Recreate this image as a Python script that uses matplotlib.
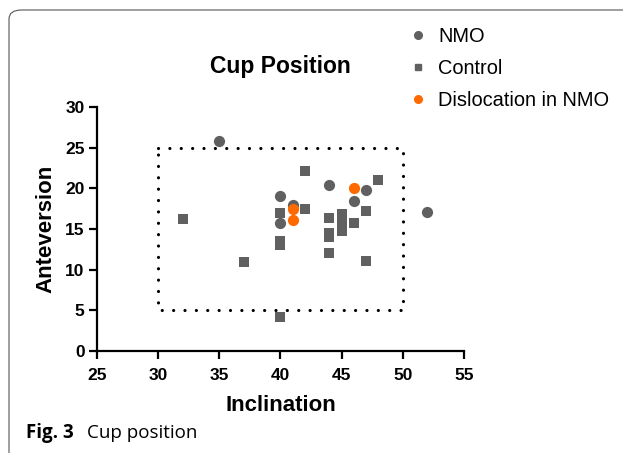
import numpy as np
import matplotlib.pyplot as plt
from matplotlib.patches import FancyBboxPatch
from matplotlib.lines import Line2D

# ── Data ─────────────────────────────────────────────────────
nmo_x = [35, 40, 40, 41, 44, 46, 47, 52]
nmo_y = [25.8, 19.0, 15.7, 18.0, 20.4, 18.5, 19.8, 17.1]

ctrl_x = [32, 37, 40, 40, 40, 40, 42, 42, 44, 44, 44, 44,
          45, 45, 45, 45, 46, 47, 47, 48]
ctrl_y = [16.2, 11.0, 17.0, 13.5, 13.0, 4.2, 22.1, 17.4, 16.4, 14.5, 14.0, 12.0,
          16.9, 16.2, 15.5, 14.7, 15.7, 17.2, 11.1, 21.0]

disl_x = [41, 41, 46]
disl_y = [17.4, 16.1, 20.0]

# safe zone (Lewinnek box)
box_x = [30, 50, 50, 30, 30]
box_y = [25, 25, 5, 5, 25]

grey = '#606060'
orange = '#ff6a00'

plt.rcParams['font.family'] = ['Liberation Sans', 'DejaVu Sans']

fig = plt.figure(figsize=(6.23, 4.53), dpi=100)
ax = fig.add_axes([97/623, 1-351/453, (464-97)/623, (351-107)/453])

# rounded frame of the figure panel
frame = FancyBboxPatch((9/623, -0.05), 1.2, 1 - 10/453 + 0.05,
                       boxstyle='round,pad=0,rounding_size=0.02',
                       transform=fig.transFigure, fill=False,
                       edgecolor='#555555', linewidth=0.8)
fig.patches.append(frame)

ax.plot(box_x, box_y, color='black', linewidth=2.3, dashes=(0.01, 3.55),
        dash_capstyle='round', zorder=1)

ax.scatter(ctrl_x, ctrl_y, marker='s', s=55, color=grey, zorder=3, linewidths=0)
ax.scatter(nmo_x, nmo_y, marker='o', s=65, color=grey, zorder=3, linewidths=0)
ax.scatter(disl_x, disl_y, marker='o', s=65, color=orange, zorder=4, linewidths=0)

ax.set_xlim(25, 55)
ax.set_ylim(0, 30)
ax.set_xticks(np.arange(25, 56, 5))
ax.set_yticks(np.arange(0, 31, 5))
for s in ['top', 'right']:
    ax.spines[s].set_visible(False)
for s in ['left', 'bottom']:
    ax.spines[s].set_linewidth(1.6)
ax.tick_params(width=1.6, length=6, labelsize=12.5)
ax.tick_params(axis='x', pad=6)
ax.tick_params(axis='y', pad=3)
for lab in ax.get_xticklabels() + ax.get_yticklabels():
    lab.set_fontweight('bold')

ax.set_xlabel('Inclination', fontsize=16, fontweight='bold', labelpad=9)
ax.set_ylabel('Anteversion', fontsize=16, fontweight='bold', labelpad=6)

fig.text(280/623, 1-66/453, 'Cup Position', fontsize=16.5, fontweight='bold',
         ha='center', va='center')

handles = [
    Line2D([], [], marker='o', linestyle='none', color=grey, markersize=5.5),
    Line2D([], [], marker='s', linestyle='none', color=grey, markersize=5),
    Line2D([], [], marker='o', linestyle='none', color=orange, markersize=5.5),
]
fig.legend(handles, ['NMO', 'Control', 'Dislocation in NMO'],
           loc='upper left', bbox_to_anchor=(400/623, 1-19/453),
           frameon=False, fontsize=14.4, handlelength=1.0, handletextpad=0.5,
           labelspacing=0.66, borderaxespad=0)

fig.text(26/623, 1-433/453, 'Fig. 3', fontsize=13.5, va='center',
         fontweight='bold', family='Open Sans')
fig.text(87/623, 1-433/453, 'Cup position', fontsize=13.5, va='center',
         family='Open Sans')

fig.savefig('out.png', dpi=100)
